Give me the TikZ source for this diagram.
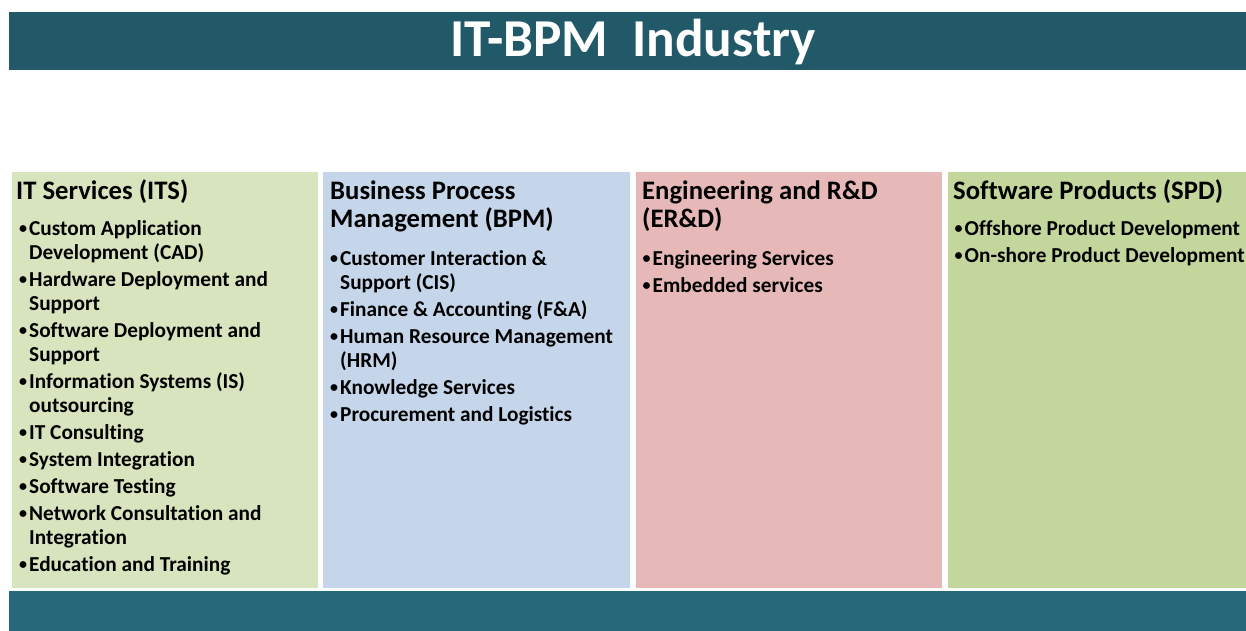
\documentclass[tikz,border=0pt]{standalone}
\usepackage{fontspec}
\setmainfont[Ligatures=NoCommon]{Carlito}
\definecolor{topbar}{HTML}{215968}
\definecolor{botbar}{HTML}{266A7A}
\definecolor{itsc}{HTML}{D7E4BD}
\definecolor{bpmc}{HTML}{C6D6EA}
\definecolor{erdc}{HTML}{E6B9B8}
\definecolor{spdc}{HTML}{C3D69B}
\newcommand\bul{\llap{\raisebox{1.8pt}{\fontsize{16}{16}\selectfont •}\hspace{2.2pt}}}
\tikzset{
  bar/.style={anchor=north west, inner sep=0, outer sep=0, draw=none},
  box/.style={anchor=north west, inner sep=0, outer sep=0, draw=none, minimum height=416pt},
  hd/.style={anchor=base west, inner sep=0, font=\fontsize{26.7}{28}\selectfont\bfseries, text=black},
  li/.style={anchor=base west, inner sep=0, font=\fontsize{21.3}{24}\selectfont\bfseries, text=black},
  ttl/.style={anchor=base, inner sep=0, font=\fontsize{53.3}{56}\selectfont\bfseries, text=white}
}
\begin{document}
\begin{tikzpicture}[x=1pt,y=-1pt]
\useasboundingbox (0,0) rectangle (1246,631);
% bars
\node[bar, fill=topbar, minimum width=1237pt, minimum height=58pt] (top) at (9,12) {};
\node[bar, fill=botbar, minimum width=1237pt, minimum height=40pt] (bottom) at (9,591) {};
\node[ttl] (title) at (633,57) {IT-BPM\hspace{0.45em}Industry};
% boxes
\node[box, fill=itsc, minimum width=306pt] (its) at (12,172) {};
\node[box, fill=bpmc, minimum width=307pt] (bpm) at (323,172) {};
\node[box, fill=erdc, minimum width=306pt] (erd) at (636,172) {};
\node[box, fill=spdc, minimum width=298pt] (spd) at (948,172) {};
% ITS
\node[hd] (itsh) at (16,199) {IT Services (ITS)};
\node[li] (its1) at (29,235) {\bul Custom Application};
\node[li] (its1b) at (29,259) {Development (CAD)};
\node[li] (its2) at (29,286) {\bul Hardware Deployment and};
\node[li] (its2b) at (29,310) {Support};
\node[li] (its3) at (29,337) {\bul Software Deployment and};
\node[li] (its3b) at (29,361) {Support};
\node[li] (its4) at (29,388) {\bul Information Systems (IS)};
\node[li] (its4b) at (29,412) {outsourcing};
\node[li] (its5) at (29,439) {\bul IT Consulting};
\node[li] (its6) at (29,466) {\bul System Integration};
\node[li] (its7) at (29,493) {\bul Software Testing};
\node[li] (its8) at (29,520) {\bul Network Consultation and};
\node[li] (its8b) at (29,544) {Integration};
\node[li] (its9) at (29,571) {\bul Education and Training};
% BPM
\node[hd] (bpmh) at (330,199) {Business Process};
\node[hd] (bpmh2) at (330,227.5) {Management (BPM)};
\node[li] (bpm1) at (340,265) {\bul Customer Interaction \&};
\node[li] (bpm1b) at (340,289) {Support (CIS)};
\node[li] (bpm2) at (340,316) {\bul Finance \& Accounting (F\&A)};
\node[li] (bpm3) at (340,343) {\bul Human Resource Management};
\node[li] (bpm3b) at (340,367) {(HRM)};
\node[li] (bpm4) at (340,394) {\bul Knowledge Services};
\node[li] (bpm5) at (340,421) {\bul Procurement and Logistics};
% ER&D
\node[hd] (erdh) at (642,199) {Engineering and R\&D};
\node[hd] (erdh2) at (642,227.5) {(ER\&D)};
\node[li] (erd1) at (652.5,265) {\bul Engineering Services};
\node[li] (erd2) at (652.5,292) {\bul Embedded services};
% SPD
\node[hd] (spdh) at (953,199) {Software Products (SPD)};
\node[li] (spd1) at (964.5,235) {\bul Offshore Product Development};
\node[li] (spd2) at (964.5,262) {\bul On-shore Product Development};
\end{tikzpicture}
\end{document}
